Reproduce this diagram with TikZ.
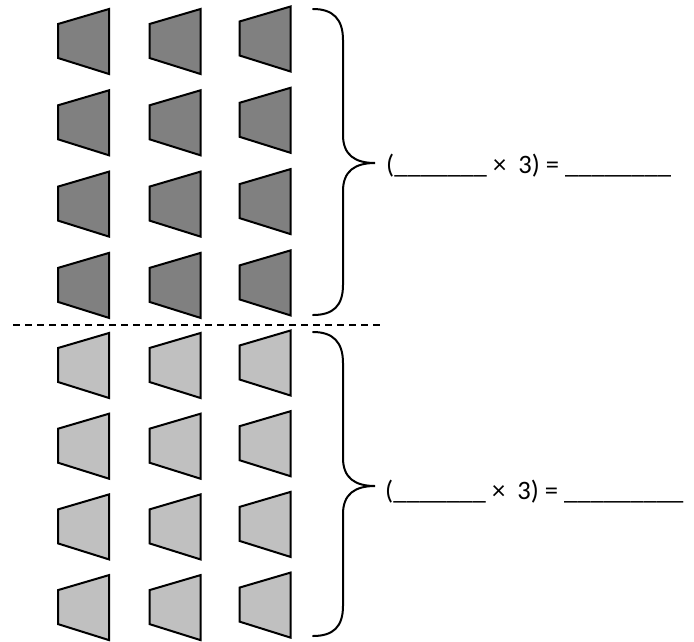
\documentclass[tikz,border=0pt]{standalone}
\usepackage{fontspec}
\setmainfont{Carlito}

\definecolor{darkfill}{HTML}{808080}
\definecolor{lightfill}{HTML}{C0C0C0}

\tikzstyle{block} = [draw, line width=2pt, line join=miter]
\tikzstyle{darkblock} = [block, fill=darkfill]
\tikzstyle{lightblock} = [block, fill=lightfill]
\tikzstyle{curly} = [draw, line width=2pt, line cap=round]
\tikzstyle{sum} = [anchor=base west, inner sep=0pt, font=\fontsize{26.6}{30}\selectfont]

\begin{document}
\begin{tikzpicture}[x=1pt, y=-1pt]
		\useasboundingbox (0,0) rectangle (694,641);
		%\draw[help lines] (0,0) grid[step=50] (694,641);
		
		% the trapezoids, three columns, four rows each
		\foreach \c/\cx/\dy in {1/83.5/0, 2/175/0, 3/265/-2.5}
		\foreach \r in {0,...,3} {
			\draw[darkblock] (\cx + 25.5, 41.5 + 81.3 * \r + \dy - 32.5) -- ++(0,65) -- ++(-51,-16) -- ++(0,-34) -- cycle;
			\draw[lightblock] (\cx + 25.5, 365.5 + 80.7 * \r + \dy - 32.5) -- ++(0,65) -- ++(-51,-16) -- ++(0,-34) -- cycle;
		}
		
		\coordinate (dashL) at (13,325);
		\coordinate (dashR) at (384,325);
		\draw[line width=1.8pt, dash pattern=on 7pt off 5pt] (dashL) -- (dashR);
		
		\coordinate (tip1) at (375,163);
		\coordinate (tip2) at (375,486);
		
		\draw[curly] (313,9) .. controls (333,9) and (343,19) .. (343,40) -- (343,135)
			.. controls (343,155) and (355,163) .. (tip1)
			.. controls (355,163) and (343,171) .. (343,191) -- (343,285)
			.. controls (343,306) and (333,315) .. (313,315);
		\draw[curly] (313,332) .. controls (333,332) and (343,342) .. (343,363) -- (343,458)
			.. controls (343,478) and (355,486) .. (tip2)
			.. controls (355,486) and (343,494) .. (343,514) -- (343,606)
			.. controls (343,627) and (333,636) .. (313,636);
		
		\node[sum] (eq1) at (386,173) {(\_\_\_\_\_\_\_ × ~3) = \_\_\_\_\_\_\_\_};
		\node[sum] (eq2) at (385,499) {(\_\_\_\_\_\_\_ × ~3) = \_\_\_\_\_\_\_\_\_};
		
	\end{tikzpicture}
\end{document}
